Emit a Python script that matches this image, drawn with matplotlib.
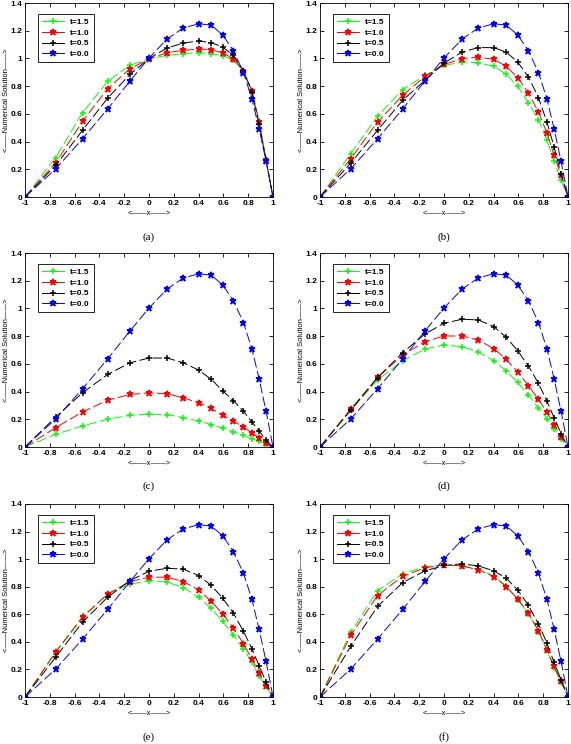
import matplotlib
matplotlib.use("Agg")
import matplotlib.pyplot as plt
from matplotlib.lines import Line2D

# grid nodes (same for every panel)
X = [-1, -0.752, -0.536, -0.333, -0.153, 0, 0.146, 0.277, 0.401, 0.502,
     0.594, 0.681, 0.762, 0.83, 0.888, 0.944, 1]

# initial profile t=0.0 (blue, identical in all panels)
U_t00 = [0, 0.203, 0.42, 0.636, 0.838, 1.003, 1.14, 1.22, 1.25, 1.24,
         1.17, 1.055, 0.898, 0.708, 0.492, 0.258, 0]

# panel (a)
a_t15 = [0, 0.284, 0.609, 0.835, 0.95, 0.998, 1.022, 1.034, 1.042, 1.034,
         1.02, 0.986, 0.909, 0.765, 0.548, 0.272, 0]
a_t10 = [0, 0.248, 0.546, 0.782, 0.926, 0.996, 1.042, 1.058, 1.068, 1.063,
         1.039, 0.998, 0.91, 0.765, 0.541, 0.265, 0]
a_t05 = [0, 0.229, 0.481, 0.714, 0.885, 1.0, 1.075, 1.111, 1.126, 1.114,
         1.082, 1.022, 0.91, 0.758, 0.524, 0.265, 0]
# panel (b)
b_t15 = [0, 0.313, 0.582, 0.775, 0.878, 0.95, 0.974, 0.969, 0.943, 0.885,
         0.799, 0.678, 0.558, 0.409, 0.26, 0.12, 0]
b_t10 = [0, 0.277, 0.541, 0.734, 0.871, 0.957, 0.998, 1.01, 0.993, 0.943,
         0.861, 0.75, 0.613, 0.462, 0.30, 0.156, 0]
b_t05 = [0, 0.245, 0.481, 0.698, 0.842, 0.967, 1.046, 1.078, 1.078, 1.046,
         0.974, 0.866, 0.717, 0.541, 0.361, 0.164, 0]
# panel (c)
c_t15 = [0, 0.092, 0.152, 0.2, 0.229, 0.237, 0.234, 0.212, 0.188, 0.162,
         0.138, 0.109, 0.084, 0.06, 0.041, 0.019, 0]
c_t10 = [0, 0.14, 0.253, 0.338, 0.379, 0.391, 0.384, 0.355, 0.319, 0.278,
         0.229, 0.186, 0.145, 0.101, 0.068, 0.031, 0]
c_t05 = [0, 0.217, 0.391, 0.524, 0.608, 0.642, 0.642, 0.608, 0.555, 0.488,
         0.406, 0.333, 0.258, 0.181, 0.116, 0.048, 0]
# panel (d)
d_t15 = [0, 0.266, 0.483, 0.623, 0.707, 0.736, 0.724, 0.686, 0.623, 0.55,
         0.466, 0.374, 0.282, 0.205, 0.133, 0.06, 0]
d_t10 = [0, 0.273, 0.502, 0.664, 0.76, 0.801, 0.801, 0.772, 0.71, 0.632,
         0.543, 0.442, 0.343, 0.249, 0.162, 0.072, 0]
d_t05 = [0, 0.266, 0.5, 0.681, 0.816, 0.893, 0.922, 0.917, 0.869, 0.792,
         0.695, 0.584, 0.459, 0.331, 0.212, 0.097, 0]
# panel (e)
e_t15 = [0, 0.33, 0.584, 0.748, 0.818, 0.845, 0.833, 0.794, 0.724, 0.644,
         0.548, 0.451, 0.348, 0.251, 0.15, 0.077, 0]
e_t10 = [0, 0.325, 0.577, 0.748, 0.837, 0.869, 0.869, 0.837, 0.777, 0.693,
         0.603, 0.5, 0.386, 0.275, 0.174, 0.077, 0]
e_t05 = [0, 0.29, 0.543, 0.724, 0.845, 0.912, 0.934, 0.927, 0.881, 0.809,
         0.717, 0.608, 0.476, 0.35, 0.227, 0.109, 0]
# panel (f)
f_t15 = [0, 0.468, 0.772, 0.893, 0.946, 0.958, 0.951, 0.927, 0.879, 0.806,
         0.705, 0.603, 0.475, 0.338, 0.21, 0.106, 0]
f_t10 = [0, 0.447, 0.736, 0.876, 0.937, 0.958, 0.951, 0.922, 0.874, 0.801,
         0.712, 0.608, 0.48, 0.343, 0.222, 0.113, 0]
f_t05 = [0, 0.367, 0.657, 0.83, 0.915, 0.954, 0.966, 0.951, 0.915, 0.862,
         0.777, 0.664, 0.529, 0.391, 0.251, 0.126, 0]

labels = ['t=1.5', 't=1.0', 't=0.5', 't=0.0']
colors = ['#00ff00', '#ff0000', 'k', '#0000ff']
markers = ['+', '*', '+', '*']
captions = ['(a)', '(b)', '(c)', '(d)', '(e)', '(f)']
panels = [[a_t15, a_t10, a_t05, U_t00],
          [b_t15, b_t10, b_t05, U_t00],
          [c_t15, c_t10, c_t05, U_t00],
          [d_t15, d_t10, d_t05, U_t00],
          [e_t15, e_t10, e_t05, U_t00],
          [f_t15, f_t10, f_t05, U_t00]]

plt.rcParams['font.family'] = ['Liberation Sans', 'DejaVu Sans']
plt.rcParams['lines.scale_dashes'] = False

W, H = 571, 744
fig = plt.figure(figsize=(W/100, H/100), dpi=100)

lefts = [25, 320]
rights = [273, 568]
tops = [3, 253, 504]
bottoms = [197, 447, 697]
cap_y = [237, 486, 737]

xt = [-1, -0.8, -0.6, -0.4, -0.2, 0, 0.2, 0.4, 0.6, 0.8, 1]
xtl = ['-1', '-0.8', '-0.6', '-0.4', '-0.2', '0', '0.2', '0.4', '0.6', '0.8', '1']
yt = [0, 0.2, 0.4, 0.6, 0.8, 1, 1.2, 1.4]
ytl = ['0', '0.2', '0.4', '0.6', '0.8', '1', '1.2', '1.4']

for k, series in enumerate(panels):
    r, c = divmod(k, 2)
    l, rr = lefts[c], rights[c]
    t, b = tops[r], bottoms[r]
    ax = fig.add_axes([l/W, 1 - b/H, (rr - l)/W, (b - t)/H])
    for ys, col, mk in zip(series, colors, markers):
        ax.plot(X, ys, color=col, lw=0.7, dashes=(7, 2.5), marker=mk,
                ms=4.5, mew=1.1)
    ax.set_xlim(-1, 1)
    ax.set_ylim(0, 1.4)
    ax.set_xticks(xt)
    ax.set_xticklabels(xtl)
    ax.set_yticks(yt)
    ax.set_yticklabels(ytl)
    ax.tick_params(direction='in', length=3, width=0.6, top=True, right=True,
                   labelsize=6, pad=2)
    for lab in ax.get_xticklabels() + ax.get_yticklabels():
        lab.set_fontweight('bold')
    for sp in ax.spines.values():
        sp.set_linewidth(0.6)
    ax.set_xlabel('<\u2014\u2014x\u2014\u2014>', fontsize=5.5, labelpad=2)
    ax.set_ylabel('<\u2014\u2014Numerical Solution\u2014\u2014>', fontsize=5.5)
    ax.yaxis.set_label_coords(-0.062, 0.5)
    handles = [Line2D([0], [0], color=col, lw=0.7, marker=mk, ms=4.5, mew=1.1)
               for col, mk in zip(colors, markers)]
    leg = ax.legend(handles, labels, loc='upper left', fontsize=6,
                    fancybox=False, framealpha=1, edgecolor='k',
                    handlelength=2.6, borderpad=0.5, labelspacing=0.35,
                    bbox_to_anchor=(0.035, 0.965))
    leg.get_frame().set_linewidth(0.6)
    for txt in leg.get_texts():
        txt.set_fontweight('bold')
    fig.text((l + rr) / 2 / W, 1 - cap_y[r] / H, captions[k], ha='center',
             va='center', fontsize=8, family='Liberation Serif')

fig.savefig('out.png', dpi=100)
